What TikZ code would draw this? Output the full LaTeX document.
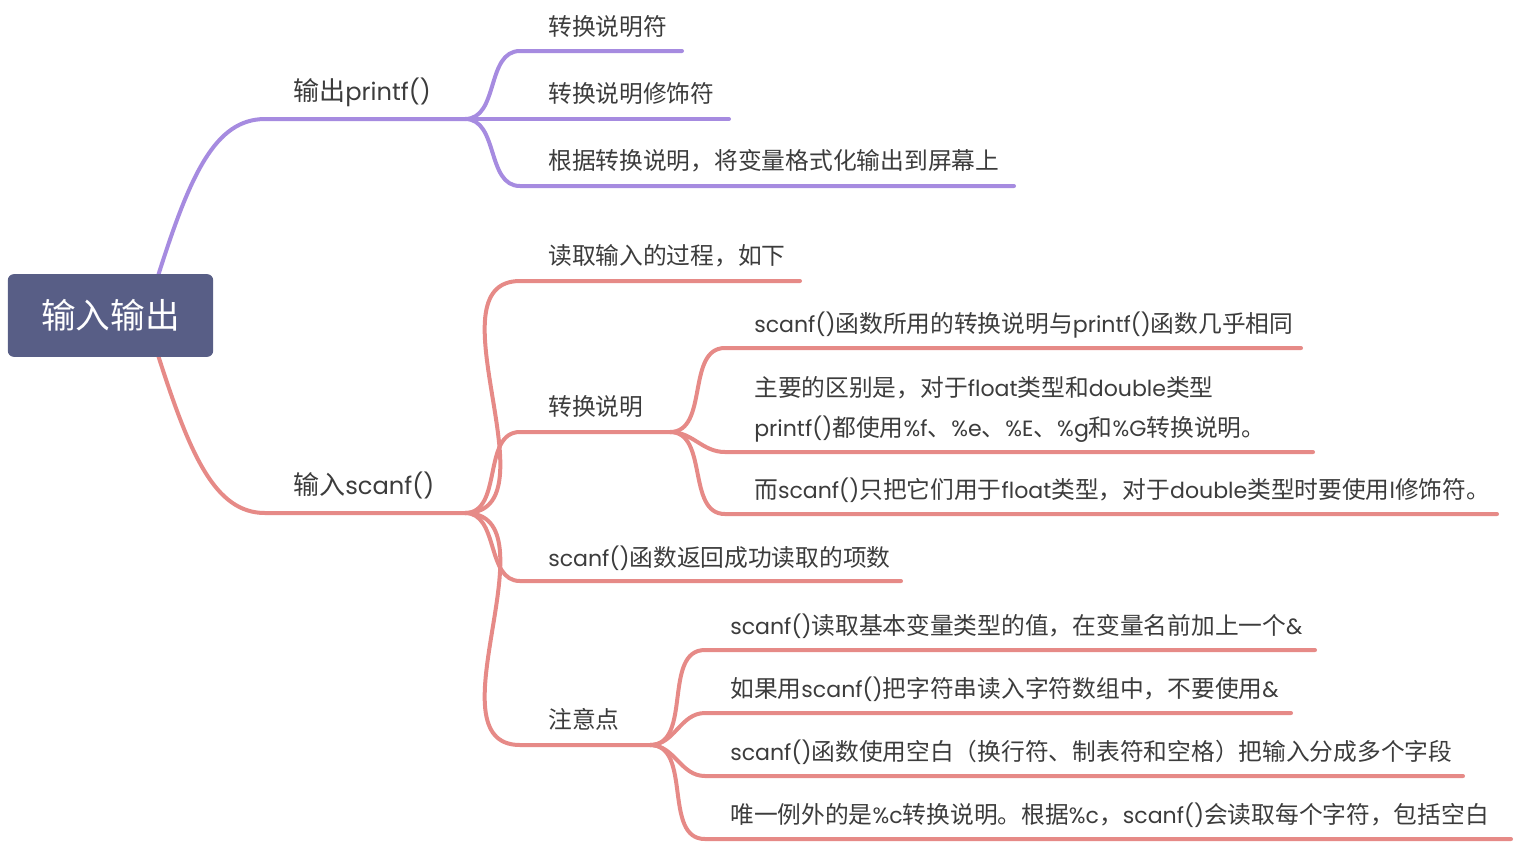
\documentclass[tikz,border=0pt]{standalone}
\usepackage{fontspec}
\setmainfont{Noto Sans CJK SC}
\newfontfamily\latfont[Scale=0.93]{Poppins}
\newcommand\en[1]{{\latfont #1}}
\definecolor{rootblue}{HTML}{585E86}
\definecolor{purpleline}{HTML}{A68BE0}
\definecolor{redline}{HTML}{E68A87}
\definecolor{textgray}{HTML}{3C3C3C}
\begin{document}
\begin{tikzpicture}
            [x=0.75pt,y=-0.75pt,
             Root/.style={rectangle,rounded corners=4.5pt,fill=rootblue,text=white,font=\fontsize{26}{30}\selectfont,minimum width=154pt,minimum height=62pt,inner sep=0pt},
             Topic/.style={anchor=base west,inner sep=0pt,text=textgray,font=\fontsize{17.8}{20}\selectfont},
             Main/.style={Topic,font=\fontsize{19.5}{22}\selectfont},
             Purple/.style={draw=purpleline,line width=3pt,line cap=round},
             Red/.style={draw=redline,line width=3pt,line cap=round}];
            \useasboundingbox (0,0) rectangle (1520,844);
            % root
            \coordinate (rtop) at (158,276);
            \coordinate (rbot) at (158,355);
            % printf branch
            \coordinate (pf) at (265,119);
            \coordinate (pfork) at (465,119);
            \coordinate (p1) at (520,51);  \coordinate (p1e) at (682,51);
            \coordinate (p2e) at (729,119);
            \coordinate (p3) at (520,186); \coordinate (p3e) at (1014,186);
            \draw[Purple] (rtop) .. controls (190,175) and (215,119) .. (pf) -- (pfork);
            \draw[Purple] (pfork) to[out=0,in=180] (p1) -- (p1e);
            \draw[Purple] (pfork) -- (p2e);
            \draw[Purple] (pfork) to[out=0,in=180] (p3) -- (p3e);
            \node[Main] (printf) at (293,100){输出\en{printf()}};
            \node[Topic] (p1t) at (548,35.5){转换说明符};
            \node[Topic] (p2t) at (548,102.5){转换说明修饰符};
            \node[Topic] (p3t) at (548,169.5){根据转换说明，将变量格式化输出到屏幕上};
            % scanf branch
            \coordinate (sf) at (265,513);
            \coordinate (sfork) at (465,513);
            \coordinate (s1) at (520,281); \coordinate (s1e) at (800,281);
            \coordinate (s2) at (520,432); \coordinate (cfork) at (670,432);
            \coordinate (s3) at (520,581); \coordinate (s3e) at (901,581);
            \coordinate (s4) at (520,745); \coordinate (nfork) at (650,745);
            \draw[Red] (rbot) .. controls (190,455) and (215,513) .. (sf) -- (sfork);
            \draw[Red] (sfork) to[out=0,in=180] (s1) -- (s1e);
            \draw[Red] (sfork) to[out=0,in=180] (s2) -- (cfork);
            \draw[Red] (sfork) to[out=0,in=180] (s3) -- (s3e);
            \draw[Red] (sfork) to[out=0,in=180] (s4) -- (nfork);
            \node[Main] (scanf) at (293,494){输入\en{scanf()}};
            \node[Topic] (s1t) at (548,264.5){读取输入的过程，如下};
            \node[Topic] (s2t) at (548,415.5){转换说明};
            \node[Topic] (s3t) at (548,566.5){\en{scanf()}函数返回成功读取的项数};
            \node[Topic] (s4t) at (548,728.5){注意点};
            % conversion details
            \coordinate (c1) at (725,348); \coordinate (c1e) at (1301,348);
            \coordinate (c2) at (725,452); \coordinate (c2e) at (1313,452);
            \coordinate (c3) at (725,514); \coordinate (c3e) at (1497,514);
            \draw[Red] (cfork) to[out=0,in=180] (c1) -- (c1e);
            \draw[Red] (cfork) to[out=0,in=180] (c2) -- (c2e);
            \draw[Red] (cfork) to[out=0,in=180] (c3) -- (c3e);
            \node[Topic] (c1t) at (754,332.5){\en{scanf()}函数所用的转换说明与\en{printf()}函数几乎相同};
            \node[Topic] (c2a) at (754,396.5){主要的区别是，对于\en{float}类型和\en{double}类型};
            \node[Topic] (c2b) at (754,436.5){\en{printf()}都使用\en{\%f}、\en{\%e}、\en{\%E}、\en{\%g}和\en{\%G}转换说明。};
            \node[Topic] (c3t) at (754,498.5){而\en{scanf()}只把它们用于\en{float}类型，对于\en{double}类型时要使用\en{l}修饰符。};
            % notes
            \coordinate (n1) at (705,650); \coordinate (n1e) at (1315,650);
            \coordinate (n2) at (705,713); \coordinate (n2e) at (1291,713);
            \coordinate (n3) at (705,776); \coordinate (n3e) at (1463,776);
            \coordinate (n4) at (705,839); \coordinate (n4e) at (1511,839);
            \draw[Red] (nfork) to[out=0,in=180] (n1) -- (n1e);
            \draw[Red] (nfork) to[out=0,in=180] (n2) -- (n2e);
            \draw[Red] (nfork) to[out=0,in=180] (n3) -- (n3e);
            \draw[Red] (nfork) to[out=0,in=180] (n4) -- (n4e);
            \node[Topic] (n1t) at (730,634.5){\en{scanf()}读取基本变量类型的值，在变量名前加上一个\en{\&}};
            \node[Topic] (n2t) at (730,697.5){如果用\en{scanf()}把字符串读入字符数组中，不要使用\en{\&}};
            \node[Topic] (n3t) at (730,760.5){\en{scanf()}函数使用空白（换行符、制表符和空格）把输入分成多个字段};
            \node[Topic] (n4t) at (730,823.5){唯一例外的是\en{\%c}转换说明。根据\en{\%c}，\en{scanf()}会读取每个字符，包括空白};
            % root box
            \node[Root] (root) at (110.5,315.5){输入输出};
        \end{tikzpicture}
\end{document}
